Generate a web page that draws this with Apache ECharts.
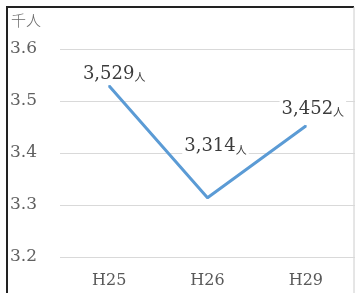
<!DOCTYPE html>
<html><head><meta charset="utf-8">
<script src="https://cdn.jsdelivr.net/npm/echarts@6/dist/echarts.min.js"></script>
<style>html,body{margin:0;padding:0;background:#fff}#c{width:355px;height:293px}</style>
</head><body><div id="c"></div>
<script>
const categories = ['H25', 'H26', 'H29'];
const values = [3.529, 3.314, 3.452];
const yTicks = [3.2, 3.3, 3.4, 3.5, 3.6];
const unitLabel = '千人';

const labelOffsets = [[5, 3], [8, -36], [7, -2]];
const chart = echarts.init(document.getElementById('c'));
chart.setOption({
  animation: false,
  backgroundColor: '#fff',
  grid: { left: 60, right: 0, top: 49, bottom: 36 },
  graphic: [
    { type: 'polyline', shape: { points: [[7, 300], [7, 7], [354, 7]] }, style: { stroke: '#222', lineWidth: 2, fill: null } },
    { type: 'line', shape: { x1: 354, y1: 7, x2: 354, y2: 300 }, style: { stroke: '#ccc', lineWidth: 1 } },
    { type: 'text', left: 11, top: 13, style: { text: unitLabel, fontSize: 15, fill: '#6a6a6a', fontFamily: 'Noto Sans CJK JP', fontWeight: 300 } }
  ],
  xAxis: {
    type: 'category', data: categories, boundaryGap: true,
    axisLine: { show: false }, axisTick: { show: false },
    axisLabel: { fontFamily: 'DejaVu Serif', fontSize: 16, color: '#595959', margin: 16 }
  },
  yAxis: {
    type: 'value', min: yTicks[0], max: yTicks[yTicks.length - 1], interval: 0.1,
    axisLine: { show: false }, axisTick: { show: false },
    splitLine: { lineStyle: { color: '#d9d9d9', width: 1 } },
    axisLabel: { fontFamily: 'DejaVu Serif', fontSize: 17, color: '#606060', align: 'left', margin: 50,
      formatter: v => v.toFixed(1) }
  },
  series: [{
    type: 'line', data: values.map((v, i) => ({
      value: v,
      label: { show: true, offset: labelOffsets[i] }
    })),
    symbol: 'circle', symbolSize: 2, showSymbol: true,
    itemStyle: { color: '#5b9bd5' },
    lineStyle: { color: '#5b9bd5', width: 3 },
    label: {
      show: true, position: 'top',
      backgroundColor: '#fff', padding: [0, 2],
      formatter: function (p) {
        const n = Math.round(p.value * 1000);
        const s = Math.floor(n / 1000) + ',' + String(n % 1000).padStart(3, '0');
        return '{n|' + s + '}{u|人}';
      },
      rich: {
        n: { fontFamily: 'DejaVu Serif', fontSize: 18, color: '#3c3c3c' },
        u: { fontFamily: 'Noto Sans CJK JP', fontSize: 11, color: '#3c3c3c', padding: [6, 0, 0, 0] }
      }
    }
  }]
});
</script></body></html>
